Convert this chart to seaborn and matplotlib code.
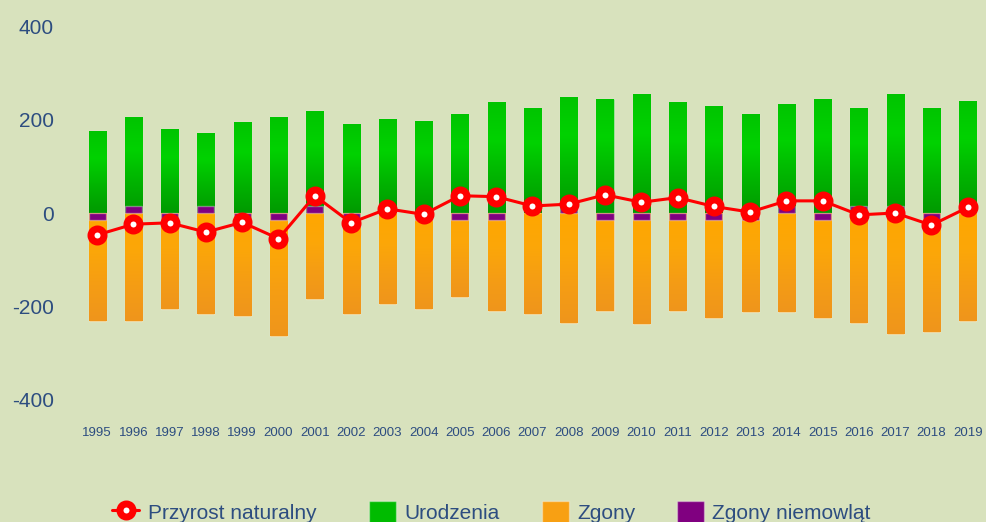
import numpy as np
import pandas as pd
import matplotlib
matplotlib.use('Agg')
import matplotlib.pyplot as plt
import seaborn as sns
from matplotlib.lines import Line2D
from matplotlib.patches import Patch
from matplotlib.colors import LinearSegmentedColormap, to_hex

# Dane
lata = [str(r) for r in range(1995, 2020)]
urodzenia = [176, 205, 179, 172, 194, 205, 219, 190, 201, 197, 212, 237, 226,
             249, 244, 256, 237, 230, 212, 234, 244, 226, 256, 226, 241]
zgony = [-231, -231, -206, -217, -221, -264, -184, -217, -195, -206, -181, -209, -217,
         -235, -209, -238, -209, -224, -213, -213, -224, -235, -260, -256, -231]
zgony_niemowlat = [-14, 14, -14, 14, -14, -14, 14, -14, 0, -14, -14, -14, 0,
                   14, -14, -14, -14, -14, -14, 14, -14, 14, 14, -14, 0]
przyrost = [-47, -24, -21, -41, -20, -55, 37, -21, 9, -3, 37, 35, 15,
            19, 39, 23, 33, 14, 2, 26, 26, -4, 0, -26, 12]

df = pd.DataFrame({'rok': lata, 'urodzenia': urodzenia, 'zgony': zgony,
                   'niemowleta': zgony_niemowlat, 'przyrost': przyrost})

tlo = '#d8e2bd'
tekst = '#2d4d80'
zielony = '#00bb00'
pomaranczowy = '#f8a013'
fioletowy = '#800080'
# gradienty slupkow (gora -> dol)
gradienty = {
    zielony: ['#00c400', '#00d200', '#00b400', '#009a00'],
    pomaranczowy: ['#ffa600', '#fca708', '#f59d14', '#ef951c'],
}

sns.set_style('white')
plt.rcParams['font.family'] = ['Liberation Sans', 'DejaVu Sans']
plt.rcParams['axes.unicode_minus'] = False

fig = plt.figure(figsize=(9.87, 5.22), dpi=100, facecolor=tlo)
ax = fig.add_axes([0.080, 0.2343, 0.9189, 0.7153])
ax.set_facecolor(tlo)

krawedz = (1, 1, 1, 0.35)
sns.barplot(data=df, x='rok', y='urodzenia', color=zielony, width=0.47,
            saturation=1, edgecolor=krawedz, linewidth=1, ax=ax)
sns.barplot(data=df, x='rok', y='zgony', color=pomaranczowy, width=0.47,
            saturation=1, edgecolor=krawedz, linewidth=1, ax=ax)
sns.barplot(data=df, x='rok', y='niemowleta', color=fioletowy, width=0.47,
            saturation=1, edgecolor=krawedz, linewidth=1, ax=ax)

# cieniowanie slupkow, fioletowe zostaja na wierzchu
for bar in list(ax.patches):
    kolor = to_hex(bar.get_facecolor())
    z = bar.get_zorder()
    if kolor == fioletowy:
        bar.set_zorder(z + 0.5)
        continue
    if bar.get_height() == 0:
        continue
    cmap = LinearSegmentedColormap.from_list('g', gradienty[kolor], N=512)
    x0, w = bar.get_x(), bar.get_width()
    y0, y1 = sorted([bar.get_y(), bar.get_y() + bar.get_height()])
    grad = np.linspace(0, 1, 300).reshape(-1, 1)
    img = ax.imshow(grad, cmap=cmap, extent=[x0, x0 + w, y0, y1], origin='upper',
                    aspect='auto', interpolation='bilinear', zorder=z + 0.1)
    img.set_clip_path(bar)

sns.lineplot(data=df, x='rok', y='przyrost', color='red', linewidth=2.2,
             marker='o', markersize=9.4, markerfacecolor='white',
             markeredgecolor='red', markeredgewidth=5, ax=ax, zorder=5)

ax.set_ylim(-400, 400)
ax.set_xlim(-0.5, len(lata) - 0.5)
ax.set_yticks([-400, -200, 0, 200, 400])
ax.set_xlabel('')
ax.set_ylabel('')
ax.tick_params(axis='y', length=0, pad=18, labelsize=15, labelcolor=tekst)
ax.tick_params(axis='x', length=0, pad=20, labelsize=9.5, labelcolor=tekst)
sns.despine(ax=ax, left=True, bottom=True)

uchwyty = [
    Line2D([0], [0], color='red', linewidth=2.2, marker='o', markersize=9.4,
           markerfacecolor='white', markeredgecolor='red', markeredgewidth=5),
    Patch(facecolor=zielony, edgecolor=krawedz),
    Patch(facecolor=pomaranczowy, edgecolor=krawedz),
    Patch(facecolor=fioletowy, edgecolor=krawedz),
]
etykiety = ['Przyrost naturalny  ', 'Urodzenia', 'Zgony', 'Zgony niemowląt']
fig.legend(uchwyty, etykiety, loc='center', bbox_to_anchor=(0.498, 0.019),
           ncol=4, frameon=False, fontsize=15, labelcolor=tekst,
           handlelength=1.3, handleheight=1.3, handletextpad=0.4,
           columnspacing=2.0)

fig.savefig('out.png', dpi=100, facecolor=tlo)
